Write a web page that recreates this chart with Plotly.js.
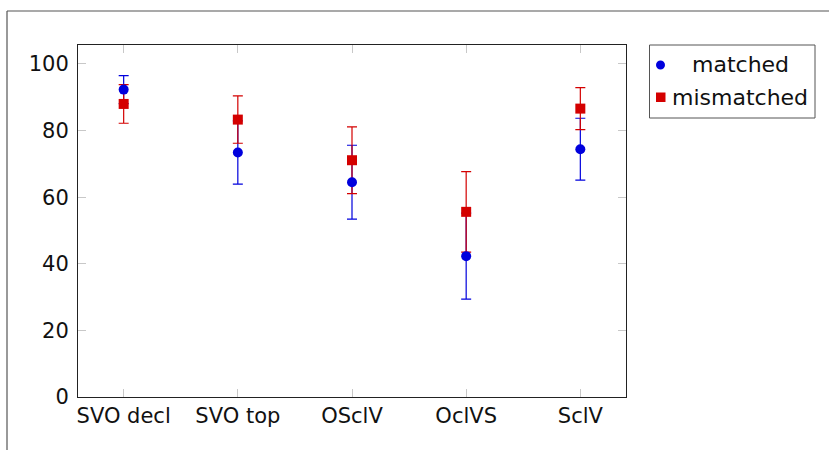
<!DOCTYPE html>
<html>
<head>
<meta charset="utf-8">
<script src="https://cdn.plot.ly/plotly-3.0.1.min.js"></script>
<style>html,body{margin:0;padding:0;background:#fff;}#chart{width:829px;height:450px;}</style>
</head>
<body>
<div id="chart"></div>
<script>
var categories = ["SVO decl", "SVO top", "OSclV", "OclVS", "SclV"];
var matchedValues = [92.3, 73.4, 64.5, 42.3, 74.4];
var matchedErrors = [4.2, 9.5, 11.1, 12.9, 9.3];
var mismatchedValues = [88.0, 83.3, 71.1, 55.6, 86.6];
var mismatchedErrors = [5.8, 7.1, 10.0, 12.1, 6.3];
var yTicks = [0, 20, 40, 60, 80, 100];
var seriesNames = ["matched", "mismatched"];

var blue = '#0000dd';
var red = '#d40000';
var xs = categories.map(function(c, i){ return i; });

function errTrace(vals, errs, color){
  return {
    x: xs, y: vals, type: 'scatter', mode: 'markers', showlegend: false, hoverinfo: 'skip',
    marker: {color: 'rgba(0,0,0,0)', size: 1},
    error_y: {type: 'data', array: errs, visible: true, color: color, thickness: 1.2, width: 5}
  };
}

var traces = [
  errTrace(matchedValues, matchedErrors, blue),
  errTrace(mismatchedValues, mismatchedErrors, red),
  {x: xs, y: matchedValues, type: 'scatter', mode: 'markers', name: seriesNames[0], showlegend: false,
   marker: {symbol: 'circle', size: 10, color: blue}},
  {x: xs, y: mismatchedValues, type: 'scatter', mode: 'markers', name: seriesNames[1], showlegend: false,
   marker: {symbol: 'square', size: 10, color: red}}
];

var W = 548, H = 352, L = 78, T = 45;
function px(x){ return (x - L) / W; }
function py(y){ return (T + H - y) / H; }

var FONT = '"DejaVu Sans", sans-serif';

var layout = {
  width: 829, height: 450,
  margin: {l: L, r: 829 - L - W, t: T, b: 450 - T - H},
  paper_bgcolor: '#fff', plot_bgcolor: '#fff',
  showlegend: false,
  font: {family: FONT, size: 21, color: '#111'},
  xaxis: {
    range: [-0.4, 4.4], tickmode: 'array', tickvals: xs, ticktext: categories,
    showgrid: false, zeroline: false, showline: true, linecolor: '#222', linewidth: 1,
    mirror: 'ticks', ticks: 'inside', ticklen: 8, tickcolor: '#c8c8c8', tickwidth: 1,
    tickfont: {size: 21}
  },
  yaxis: {
    range: [0, 105.7], tickmode: 'array', tickvals: yTicks,
    showgrid: false, zeroline: false, showline: true, linecolor: '#222', linewidth: 1,
    mirror: 'ticks', ticks: 'inside', ticklen: 8, tickcolor: '#c8c8c8', tickwidth: 1,
    tickfont: {size: 21}, ticklabelstandoff: 4
  },
  shapes: [
    {type: 'line', xref: 'paper', yref: 'paper', x0: px(7), x1: px(829), y0: py(11), y1: py(11), line: {color: '#555', width: 1.2}},
    {type: 'line', xref: 'paper', yref: 'paper', x0: px(7), x1: px(7), y0: py(11), y1: py(450), line: {color: '#555', width: 1.2}},
    // legend box
    {type: 'rect', xref: 'paper', yref: 'paper', x0: px(649.5), x1: px(815), y0: py(45), y1: py(118), line: {color: '#555', width: 1}, fillcolor: '#fff'},
    {type: 'circle', xref: 'paper', yref: 'paper', x0: px(656), x1: px(665), y0: py(69.5), y1: py(60.5), line: {width: 0}, fillcolor: blue},
    {type: 'rect', xref: 'paper', yref: 'paper', x0: px(656), x1: px(665.5), y0: py(102), y1: py(92.5), line: {width: 0}, fillcolor: red}
  ],
  annotations: [
    {xref: 'paper', yref: 'paper', x: px(740), y: py(65), xanchor: 'center', yanchor: 'middle', showarrow: false,
     text: seriesNames[0], font: {family: FONT, size: 22, color: '#111'}},
    {xref: 'paper', yref: 'paper', x: px(739.5), y: py(97), xanchor: 'center', yanchor: 'middle', showarrow: false,
     text: seriesNames[1], font: {family: FONT, size: 22, color: '#111'}}
  ]
};

Plotly.newPlot('chart', traces, layout, {displayModeBar: false, staticPlot: true});
</script>
</body>
</html>
